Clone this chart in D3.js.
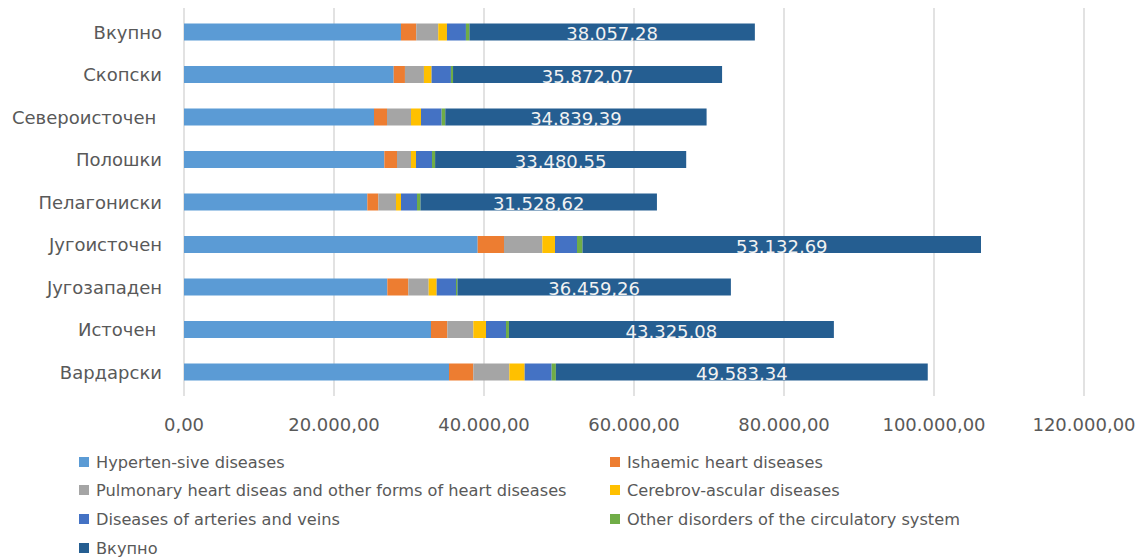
<!DOCTYPE html>
<html><head><meta charset="utf-8">
<script src="https://cdn.jsdelivr.net/npm/d3@7"></script>
<style>body{margin:0;background:#fff}svg{display:block}text{font-family:"DejaVu Sans",sans-serif}</style>
</head><body>
<svg id="c" width="1139" height="557"></svg>
<script>
const categories = ["Вкупно","Скопски","Североисточен ","Полошки","Пелагониски","Југоисточен","Југозападен","Источен ","Вардарски"];
const seriesNames = ["Hyperten-sive diseases","Ishaemic heart diseases","Pulmonary heart diseas and other forms of heart diseases","Cerebrov-ascular diseases","Diseases of arteries and veins","Other disorders of the circulatory system","Вкупно"];
const hypertensive = [28930,27960,25333,26711,24444,39156,27111,32933,35333];
const ischaemic    = [2040,1500,1733,1689,1467,3511,2800,2178,3244];
const pulmonary    = [2930,2530,3200,1867,2356,5111,2711,3467,4800];
const cerebro      = [1160,1020,1333,667,667,1689,1067,1689,2044];
const arteries     = [2530,2580,2756,2133,2133,2933,2578,2667,3600];
const other        = [467,282,484,413,462,733,192,391,562];
const total        = [38057.28,35872.07,34839.39,33480.55,31528.62,53132.69,36459.26,43325.08,49583.34];
const colors = ["#5B9BD5","#ED7D31","#A5A5A5","#FFC000","#4472C4","#70AD47","#255E91"];
const xTicks = [0,20000,40000,60000,80000,100000,120000];

const fmt = v => { const p = d3.format(",.2f")(v); return p.replace(/,/g,"#").replace(/\./g,",").replace(/#/g,"."); };

const series = [hypertensive,ischaemic,pulmonary,cerebro,arteries,other,total];
const rows = categories.map((c,i)=>{const o={cat:c}; series.forEach((s,j)=>o["s"+j]=s[i]); return o;});
const keys = series.map((s,j)=>"s"+j);
const stacked = d3.stack().keys(keys)(rows);

const svg = d3.select("#c");
const x = d3.scaleLinear().domain([0,120000]).range([184,1084]);
const y = d3.scaleBand().domain(categories).range([10.75,393.25]).paddingInner(0.6).paddingOuter(0.3);

// gridlines
svg.append("g").selectAll("line").data(xTicks.slice(1)).join("line")
  .attr("x1",d=>x(d)).attr("x2",d=>x(d)).attr("y1",8).attr("y2",396)
  .attr("stroke","#D9D9D9").attr("stroke-width",1.5);
svg.append("line").attr("x1",x(0)).attr("x2",x(0)).attr("y1",8).attr("y2",396)
  .attr("stroke","#D9D9D9").attr("stroke-width",1.5);

// bars
svg.append("g").selectAll("g").data(stacked).join("g").attr("fill",(d,i)=>colors[i])
  .selectAll("rect").data(d=>d).join("rect")
  .attr("x",d=>x(d[0])).attr("width",d=>x(d[1])-x(d[0]))
  .attr("y",d=>y(d.data.cat)).attr("height",y.bandwidth());

// total labels
const last = stacked[stacked.length-1];
svg.append("g").selectAll("text").data(last).join("text")
  .attr("x",d=>(x(d[0])+x(d[1]))/2).attr("y",d=>y(d.data.cat)+y.bandwidth()/2+8)
  .attr("text-anchor","middle").attr("fill","#F2F2F2").attr("font-size",18)
  .text(d=>fmt(d.data.s6));

// category axis labels
svg.append("g").selectAll("text").data(categories).join("text")
  .attr("x",162).attr("y",d=>y(d)+y.bandwidth()/2+6.5).attr("text-anchor","end")
  .attr("fill","#595959").attr("font-size",18).style("white-space","pre")
  .text(d=>d.replace(/ $/,"\u00a0"));

// x tick labels
svg.append("g").selectAll("text").data(xTicks).join("text")
  .attr("x",d=>x(d)).attr("y",431).attr("text-anchor","middle")
  .attr("fill","#595959").attr("font-size",18).text(d=>fmt(d));

// legend
const lg = svg.append("g").selectAll("g").data(seriesNames).join("g")
  .attr("transform",(d,i)=>`translate(${i%2===0?79:610},${[462,490,519,548][Math.floor(i/2)]})`);
lg.append("rect").attr("x",0).attr("y",-5).attr("width",10).attr("height",10).attr("fill",(d,i)=>colors[i]);
lg.append("text").attr("x",17).attr("y",5.5).attr("fill","#595959").attr("font-size",16.2).text(d=>d);
</script>
</body></html>
